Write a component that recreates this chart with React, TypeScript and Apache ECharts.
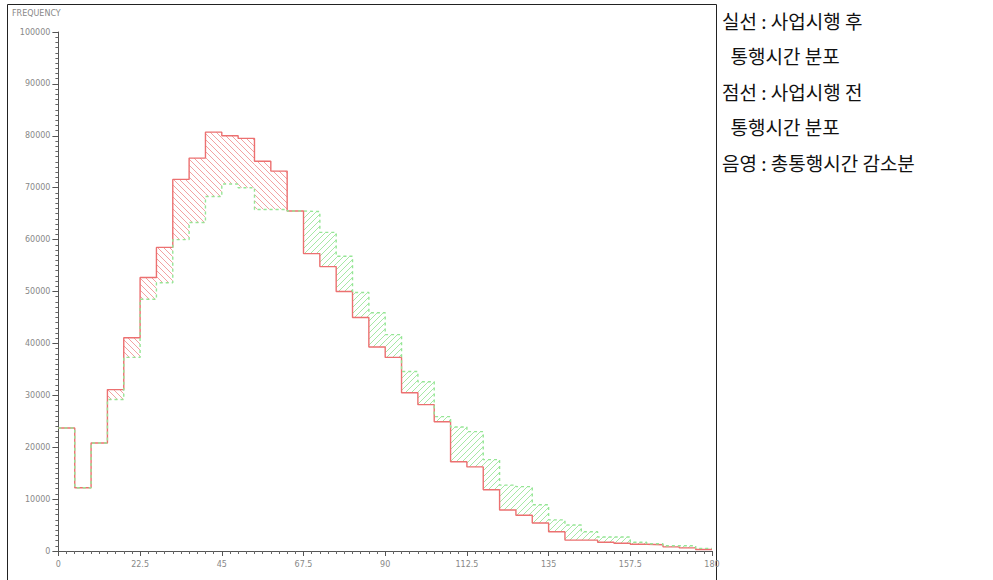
import React, { useEffect, useRef } from 'react';
import * as echarts from 'echarts';

// bin left edges (travel time), last edge
const binStarts = [0, 4.5, 9, 13.5, 18, 22.5, 27, 31.5, 36, 40.5, 45, 49.5, 54, 58.5, 63, 67.5, 72, 76.5, 81, 85.5, 90, 94.5, 99, 103.5, 108, 112.5, 117, 121.5, 126, 130.5, 135, 139.5, 144, 148.5, 153, 157.5, 162, 166.5, 171, 175.5];
const binEnd = 180;
const xTickLabels = ['0', '22.5', '45', '67.5', '90', '112.5', '135', '157.5', '180'];

// after project (solid red)
const afterFreq = [23700, 12200, 20800, 31100, 41100, 52700, 58500, 71600, 75700, 80700, 80000, 79500, 75100, 73200, 65500, 57300, 54800, 50000, 45000, 39300, 37300, 30500, 28200, 24900, 17200, 16200, 11800, 7900, 6900, 5400, 3700, 2100, 2100, 1700, 1500, 1300, 1200, 800, 600, 300];
// before project (dashed green)
const beforeFreq = [23700, 12200, 20800, 29200, 37300, 48500, 51700, 60000, 63300, 68300, 70700, 70000, 65800, 65800, 65500, 65400, 61400, 56800, 49800, 45900, 41700, 34600, 32600, 25900, 23900, 23000, 17600, 12700, 12400, 8900, 6000, 5000, 3700, 2700, 2700, 1700, 1400, 1000, 1000, 500];

const legendLines = ['실선 : 사업시행 후', '  통행시간 분포', '점선 : 사업시행 전', '  통행시간 분포', '음영 : 총통행시간 감소분'];

const RED = '#ec7070';
const GREEN = '#96e696';

function hatch(color: string, back: boolean) {
  const s = 6;
  const d = back
    ? `M-1,-1L${s + 1},${s + 1}M${s - 1},-1L${s + 1},1M-1,${s - 1}L1,${s + 1}`
    : `M-1,${s + 1}L${s + 1},-1M-1,1L1,-1M${s - 1},${s + 1}L${s + 1},${s - 1}`;
  const svg = `<svg xmlns="http://www.w3.org/2000/svg" width="${s}" height="${s}"><path d="${d}" stroke="${color}" stroke-width="1" fill="none"/></svg>`;
  return {
    image: 'data:image/svg+xml;charset=utf-8,' + encodeURIComponent(svg),
    repeat: 'repeat',
    imageWidth: s,
    imageHeight: s,
  };
}

function withEnd(vals: number[]) {
  const pts = binStarts.map((x, i) => [x, vals[i]]);
  pts.push([binEnd, vals[vals.length - 1]]);
  return pts;
}

export default function App() {
  const ref = useRef<HTMLDivElement>(null);
  useEffect(() => {
    if (!ref.current) return;
    const chart = echarts.init(ref.current, undefined, { renderer: 'svg' });
    const redPattern = hatch('#f2a2a2', true);
    const greenPattern = hatch('#a6e8a6', false);
    // [x0, x1, low, high, kind] kind 1 = decrease (red), 2 = increase (green)
    const hatchData = binStarts
      .map((x, i) => {
        const x1 = i + 1 < binStarts.length ? binStarts[i + 1] : binEnd;
        const a = afterFreq[i];
        const b = beforeFreq[i];
        if (a === b) return null;
        return [x, x1, Math.min(a, b), Math.max(a, b), a > b ? 1 : 2];
      })
      .filter((d) => d !== null);
    const common = { type: 'line', step: 'end', showSymbol: false, symbol: 'none', silent: true };
    const axisTextStyle = { color: '#888', fontSize: 8, fontFamily: 'DejaVu Sans' };
    chart.setOption({
      animation: false,
      grid: { left: 58.4, right: 281, top: 32, bottom: 29 },
      xAxis: {
        type: 'value', min: 0, max: binEnd, interval: 22.5,
        axisLine: { show: true, lineStyle: { color: '#555', width: 1 } },
        axisTick: { show: true, length: 5, lineStyle: { color: '#555' } },
        minorTick: { show: true, splitNumber: 10, length: 3, lineStyle: { color: '#666' } },
        splitLine: { show: false },
        axisLabel: { ...axisTextStyle, margin: 9, formatter: (v: number) => { const i = Math.round(v / 22.5); return xTickLabels[i] ?? ''; } },
      },
      yAxis: {
        type: 'value', min: 0, max: 100000, interval: 10000,
        axisLine: { show: true, lineStyle: { color: '#555', width: 1 } },
        axisTick: { show: true, length: 6, lineStyle: { color: '#555' } },
        minorTick: { show: true, splitNumber: 10, length: 3, lineStyle: { color: '#666' } },
        splitLine: { show: false },
        axisLabel: { ...axisTextStyle, margin: 8, formatter: (v: number) => String(v) },
      },
      series: [
        {
          type: 'custom',
          silent: true,
          data: hatchData,
          encode: { x: [0, 1], y: [2, 3] },
          renderItem: (_params: any, api: any) => {
            const p0 = api.coord([api.value(0), api.value(3)]);
            const p1 = api.coord([api.value(1), api.value(2)]);
            return {
              type: 'rect',
              shape: { x: p0[0], y: p0[1], width: p1[0] - p0[0], height: p1[1] - p0[1] },
              style: { fill: api.value(4) === 1 ? redPattern : greenPattern, stroke: null },
            };
          },
          z: 1,
        },
        { ...common, name: '사업시행 후', data: withEnd(afterFreq), lineStyle: { color: RED, width: 1.4 }, z: 3 },
        { ...common, name: '사업시행 전', data: withEnd(beforeFreq), lineStyle: { color: GREEN, width: 1.4, type: [3, 3] }, z: 4 },
      ],
      graphic: [
        { type: 'line', shape: { x1: 7.5, y1: 4.5, x2: 716.5, y2: 4.5 }, style: { stroke: '#222', lineWidth: 1 } },
        { type: 'line', shape: { x1: 7.5, y1: 4.5, x2: 7.5, y2: 580 }, style: { stroke: '#222', lineWidth: 1 } },
        { type: 'line', shape: { x1: 716.5, y1: 4.5, x2: 716.5, y2: 580 }, style: { stroke: '#222', lineWidth: 1 } },
        { type: 'text', x: 12, y: 13, style: { text: 'FREQUENCY', fill: '#888', fontSize: 8, fontFamily: 'DejaVu Sans', textVerticalAlign: 'middle' } },
        ...legendLines.map((t, i) => ({
          type: 'text', x: 722, y: 20 + i * 35.5,
          style: { text: t, fill: '#111', fontSize: 19, fontFamily: 'Noto Sans CJK KR', textVerticalAlign: 'middle' },
        })),
      ],
    });
    return () => chart.dispose();
  }, []);
  return <div ref={ref} style={{ position: 'fixed', left: 0, top: 0, width: 993, height: 580, background: '#fff' }} />;
}
